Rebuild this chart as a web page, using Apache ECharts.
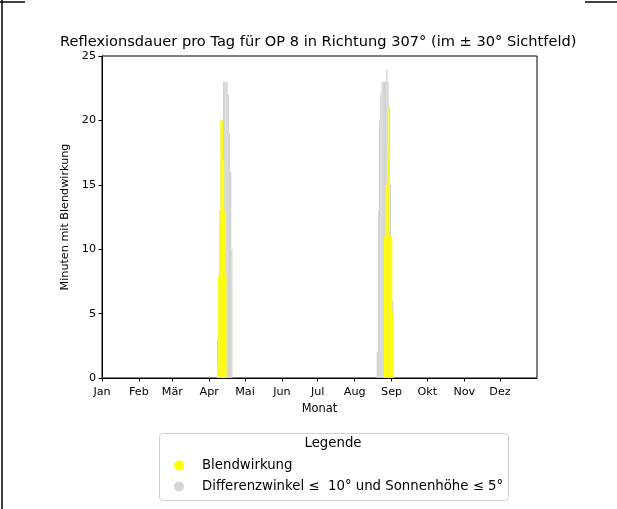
<!DOCTYPE html>
<html>
<head>
<meta charset="utf-8">
<script src="https://cdn.jsdelivr.net/npm/echarts@6/dist/echarts.min.js"></script>
<style>
html,body{margin:0;padding:0;background:#fff;}
#chart{width:617px;height:509px;}
</style>
</head>
<body>
<div id="chart"></div>
<script>
// Day of year offset (Jan 1 = 0) and minutes per day
const glareDays = [97, 98, 99, 100, 101, 102, 103, 104, 237, 238, 239, 240, 241, 242, 243, 244];
const glareMinutes = [1, 8, 13, 20, 20, 17, 13, 8, 11, 15, 15, 21, 18, 11, 11, 5];
const angleDays = [97, 98, 99, 100, 101, 102, 103, 104, 105, 106, 107, 108, 109,
                   231, 232, 233, 234, 235, 236, 237, 238, 239, 240, 241, 242, 243, 244];
const angleMinutes = [3, 8, 13, 20, 20, 23, 23, 23, 23, 22, 19, 16, 10,
                      2, 13, 20, 22, 23, 23, 23, 23, 24, 23, 21, 15, 11, 6];
const monthTicks = [0, 31, 59, 90, 120, 151, 181, 212, 243, 273, 304, 334];
const monthLabels = ['Jan', 'Feb', 'Mär', 'Apr', 'Mai', 'Jun', 'Jul', 'Aug', 'Sep', 'Okt', 'Nov', 'Dez'];
const yTicks = [0, 5, 10, 15, 20, 25];

const nameGlare = 'Blendwirkung';
const nameAngle = 'Differenzwinkel ≤  10° und Sonnenhöhe ≤ 5°';
const font = 'DejaVu Sans';

const chart = echarts.init(document.getElementById('chart'), null, {renderer: 'canvas'});
const option = {
  animation: false,
  backgroundColor: '#fff',
  title: {
    text: 'Reflexionsdauer pro Tag für OP 8 in Richtung 307° (im ± 30° Sichtfeld)',
    left: 60,
    top: 35,
    padding: 0,
    textStyle: {fontFamily: font, fontSize: 14.6, fontWeight: 'normal', color: '#000'}
  },
  grid: {
    left: 102, right: 80, top: 56, bottom: 131,
    show: true, borderColor: '#000', borderWidth: 1, backgroundColor: 'transparent'
  },
  xAxis: {
    type: 'value', min: 0, max: 365,
    name: 'Monat', nameLocation: 'middle', nameGap: 26,
    nameTextStyle: {fontFamily: font, fontSize: 11.4, color: '#000'},
    axisLine: {show: true, onZero: false, lineStyle: {color: '#000', width: 1}},
    axisTick: {show: true, length: 3.5, lineStyle: {color: '#000'}, customValues: monthTicks},
    axisLabel: {
      fontFamily: font, fontSize: 11.2, color: '#000', margin: 9,
      customValues: monthTicks,
      formatter: function (v) { const i = monthTicks.indexOf(v); return i >= 0 ? monthLabels[i] : ''; }
    },
    splitLine: {show: false}
  },
  yAxis: {
    type: 'value', min: 0, max: 25, interval: 5,
    name: 'Minuten mit Blendwirkung', nameLocation: 'middle', nameGap: 31, nameRotate: 90,
    nameTextStyle: {fontFamily: font, fontSize: 11.2, color: '#000'},
    axisLine: {show: true, lineStyle: {color: '#000', width: 1}},
    axisTick: {show: true, length: 3.5, lineStyle: {color: '#000'}},
    axisLabel: {fontFamily: font, fontSize: 11.2, color: '#000', margin: 6,
      formatter: function (v) { return yTicks.indexOf(v) >= 0 ? String(v) : ''; }},
    splitLine: {show: false}
  },
  legend: {
    orient: 'vertical',
    left: 169, top: 454,
    itemWidth: 10, itemHeight: 10, itemGap: 8,
    icon: 'circle',
    data: [nameGlare, nameAngle],
    textStyle: {fontFamily: font, fontSize: 13.3, color: '#000', padding: [0, 0, 0, 13]}
  },
  graphic: [
    {type: 'rect', shape: {x: 159.5, y: 433.5, width: 349, height: 67, r: 3},
     style: {fill: '#fff', stroke: '#d0d0d0', lineWidth: 1}, z: -1},
    {type: 'text', x: 333, y: 444,
     style: {text: 'Legende', fontFamily: font, fontSize: 13.3, fill: '#000', align: 'center', verticalAlign: 'middle'}},
    {type: 'line', shape: {x1: 2, y1: 0, x2: 2, y2: 509}, style: {stroke: '#000', lineWidth: 1.5}},
    {type: 'line', shape: {x1: 0, y1: 2, x2: 25, y2: 2}, style: {stroke: '#000', lineWidth: 1.5}},
    {type: 'line', shape: {x1: 585, y1: 2, x2: 617, y2: 2}, style: {stroke: '#000', lineWidth: 1.5}}
  ],
  series: [
    {
      name: nameAngle, type: 'bar', barWidth: 1.25, barGap: '-100%',
      itemStyle: {color: '#d3d3d3'},
      data: angleDays.map((d, i) => [d, angleMinutes[i]])
    },
    {
      name: nameGlare, type: 'bar', barWidth: 1.25, barGap: '-100%',
      itemStyle: {color: '#ffff00'},
      data: glareDays.map((d, i) => [d, glareMinutes[i]])
    }
  ]
};
chart.setOption(option);
</script>
</body>
</html>
